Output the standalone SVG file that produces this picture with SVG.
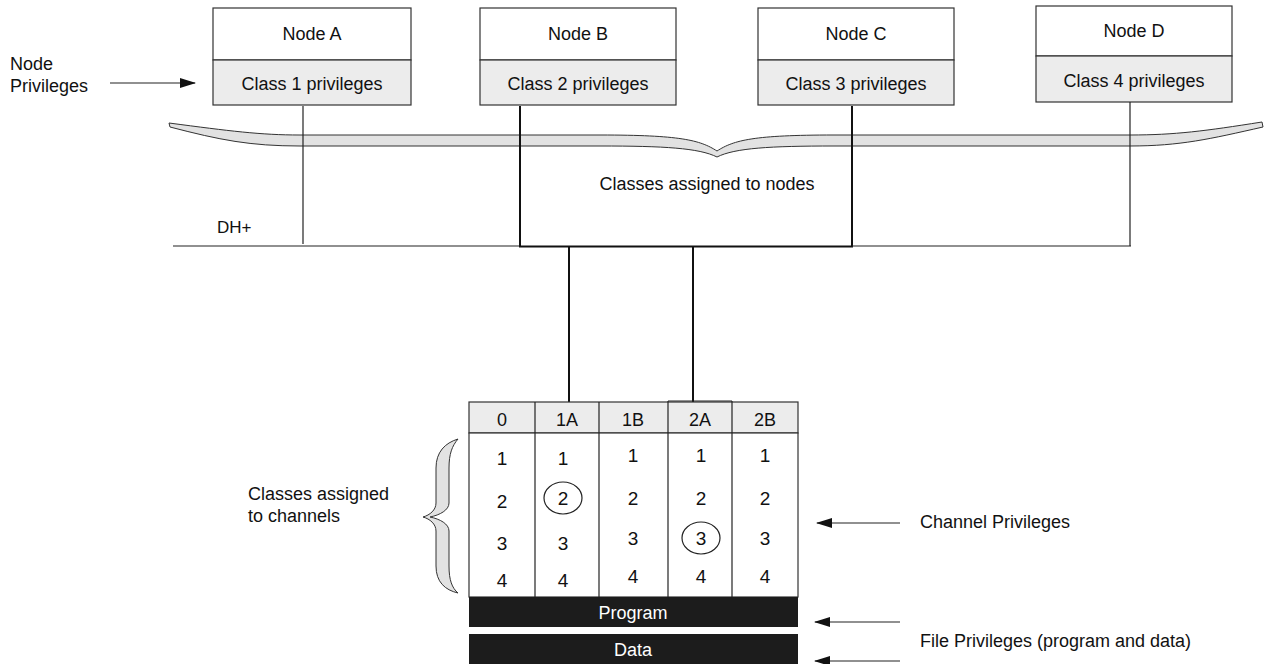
<svg xmlns="http://www.w3.org/2000/svg" width="1264" height="664" viewBox="0 0 1264 664">
<style>
text{font-family:"Liberation Sans",Arial,sans-serif;fill:#111;font-size:18px}
.t{text-anchor:middle}
.box{fill:#fff;stroke:#333;stroke-width:1.2}
.sh{fill:#ececec;stroke:#333;stroke-width:1.2}
.ln{stroke:#222;stroke-width:1.2;fill:none}
.bl{stroke:#111;stroke-width:2;fill:none}
.br{fill:#e2e2e2;stroke:#333;stroke-width:1}
.bar{fill:#1c1c1c}
.num{font-size:19px}
.wt{fill:#fff;font-size:18px}
</style>
<defs>
<marker id="ah" markerWidth="16" markerHeight="10" refX="15" refY="5" orient="auto" markerUnits="userSpaceOnUse">
<path d="M0,0 L16,5 L0,10 Z" fill="#111"/>
</marker>
</defs>
<rect width="1264" height="664" fill="#fff"/>

<g id="label-node-privileges">
<text x="10" y="70">Node</text>
<text x="10" y="92">Privileges</text>
</g>

<g id="nodeA">
<rect class="box" x="213" y="8" width="198" height="52"/>
<rect class="sh" x="213" y="60" width="198" height="45"/>
<text class="t" x="312" y="40">Node A</text>
<text class="t" x="312" y="90">Class 1 privileges</text>
</g>
<g id="nodeB">
<rect class="box" x="480" y="8" width="196" height="52"/>
<rect class="sh" x="480" y="60" width="196" height="45"/>
<text class="t" x="578" y="40">Node B</text>
<text class="t" x="578" y="90">Class 2 privileges</text>
</g>
<g id="nodeC">
<rect class="box" x="758" y="8" width="196" height="52"/>
<rect class="sh" x="758" y="60" width="196" height="45"/>
<text class="t" x="856" y="40">Node C</text>
<text class="t" x="856" y="90">Class 3 privileges</text>
</g>
<g id="nodeD">
<rect class="box" x="1036" y="6" width="196" height="50"/>
<rect class="sh" x="1036" y="56" width="196" height="46"/>
<text class="t" x="1134" y="37">Node D</text>
<text class="t" x="1134" y="87">Class 4 privileges</text>
</g>

<g id="brace-nodes">
<path class="br" d="M169,123 C230,131 260,135 300,135 L600,135 C680,135 700,140 717,151 C734,140 754,135 834,135 L1130,135 C1175,135 1205,131 1262,122 L1263,127 C1210,139 1180,146 1130,146 L834,146 C770,146 735,148 717,157 C699,148 664,146 600,146 L300,146 C250,146 220,140 170,127 Z"/>
<text class="t" x="707" y="190">Classes assigned to nodes</text>
</g>

<g id="connectors">
<line class="ln" x1="110" y1="83" x2="195" y2="83" marker-end="url(#ah)"/>
<line class="ln" x1="303" y1="106" x2="303" y2="244"/>
<line class="bl" x1="520" y1="106" x2="520" y2="247"/>
<line class="bl" x1="852" y1="106" x2="852" y2="247"/>
<line class="ln" x1="1130" y1="102" x2="1130" y2="246"/>
<line class="ln" x1="173" y1="246" x2="520" y2="246"/>
<line class="bl" x1="519" y1="246.5" x2="853" y2="246.5"/>
<line class="ln" x1="852" y1="246" x2="1131" y2="246"/>
<line class="bl" x1="569" y1="246" x2="569" y2="402"/>
<line class="bl" x1="693" y1="246" x2="693" y2="402"/>
<line class="ln" x1="900" y1="523" x2="817" y2="523" marker-end="url(#ah)"/>
<line class="ln" x1="900" y1="622" x2="815" y2="622" marker-end="url(#ah)"/>
<line class="ln" x1="900" y1="661" x2="815" y2="661" marker-end="url(#ah)"/>
</g>

<g id="dh-label">
<text x="217" y="233" style="font-size:17px">DH+</text>
</g>

<g id="table">
<rect class="sh" x="469" y="402" width="329" height="31"/>
<rect class="box" x="469" y="433" width="329" height="164"/>
<line class="ln" x1="535" y1="402" x2="535" y2="597"/>
<line class="ln" x1="599" y1="402" x2="599" y2="597"/>
<line class="ln" x1="668" y1="401" x2="668" y2="598"/>
<line class="ln" x1="732" y1="401" x2="732" y2="598"/>
<line class="ln" x1="668" y1="401" x2="732" y2="401"/>
<text class="t" x="502" y="426">0</text>
<text class="t" x="567" y="426">1A</text>
<text class="t" x="633" y="426">1B</text>
<text class="t" x="700" y="426">2A</text>
<text class="t" x="765" y="426">2B</text>
<g id="channel-classes">
<text class="t num" x="502" y="465">1</text><text class="t num" x="563" y="465">1</text><text class="t num" x="633" y="462">1</text><text class="t num" x="701" y="462">1</text><text class="t num" x="765" y="462">1</text>
<text class="t num" x="502" y="508">2</text><text class="t num" x="563" y="505">2</text><text class="t num" x="633" y="505">2</text><text class="t num" x="701" y="505">2</text><text class="t num" x="765" y="505">2</text>
<text class="t num" x="502" y="550">3</text><text class="t num" x="563" y="550">3</text><text class="t num" x="633" y="545">3</text><text class="t num" x="701" y="545">3</text><text class="t num" x="765" y="545">3</text>
<text class="t num" x="502" y="587">4</text><text class="t num" x="563" y="587">4</text><text class="t num" x="633" y="583">4</text><text class="t num" x="701" y="583">4</text><text class="t num" x="765" y="583">4</text>
</g>
<ellipse class="ln" cx="563" cy="498" rx="19" ry="16"/>
<ellipse class="ln" cx="701" cy="538" rx="19" ry="16"/>
<rect class="bar" x="469" y="597" width="329" height="30"/>
<text class="t wt" x="633" y="619">Program</text>
<rect class="bar" x="469" y="634" width="329" height="30"/>
<text class="t wt" x="633" y="656">Data</text>
</g>

<g id="brace-channels">
<path class="br" d="M458,439 C445,443 436,452 436,468 L436,503 C436,510 430,515 423,517 C430,519 436,524 436,531 L436,566 C436,582 445,590 458,593 C452,588 449,580 449,566 L449,531 C449,524 440,519 430,517 C440,515 449,510 449,503 L449,468 C449,454 452,446 458,439 Z"/>
<text x="248" y="500">Classes assigned</text>
<text x="248" y="522">to channels</text>
</g>

<g id="labels-right">
<text x="920" y="528">Channel Privileges</text>
<text x="920" y="647">File Privileges (program and data)</text>
</g>
</svg>
